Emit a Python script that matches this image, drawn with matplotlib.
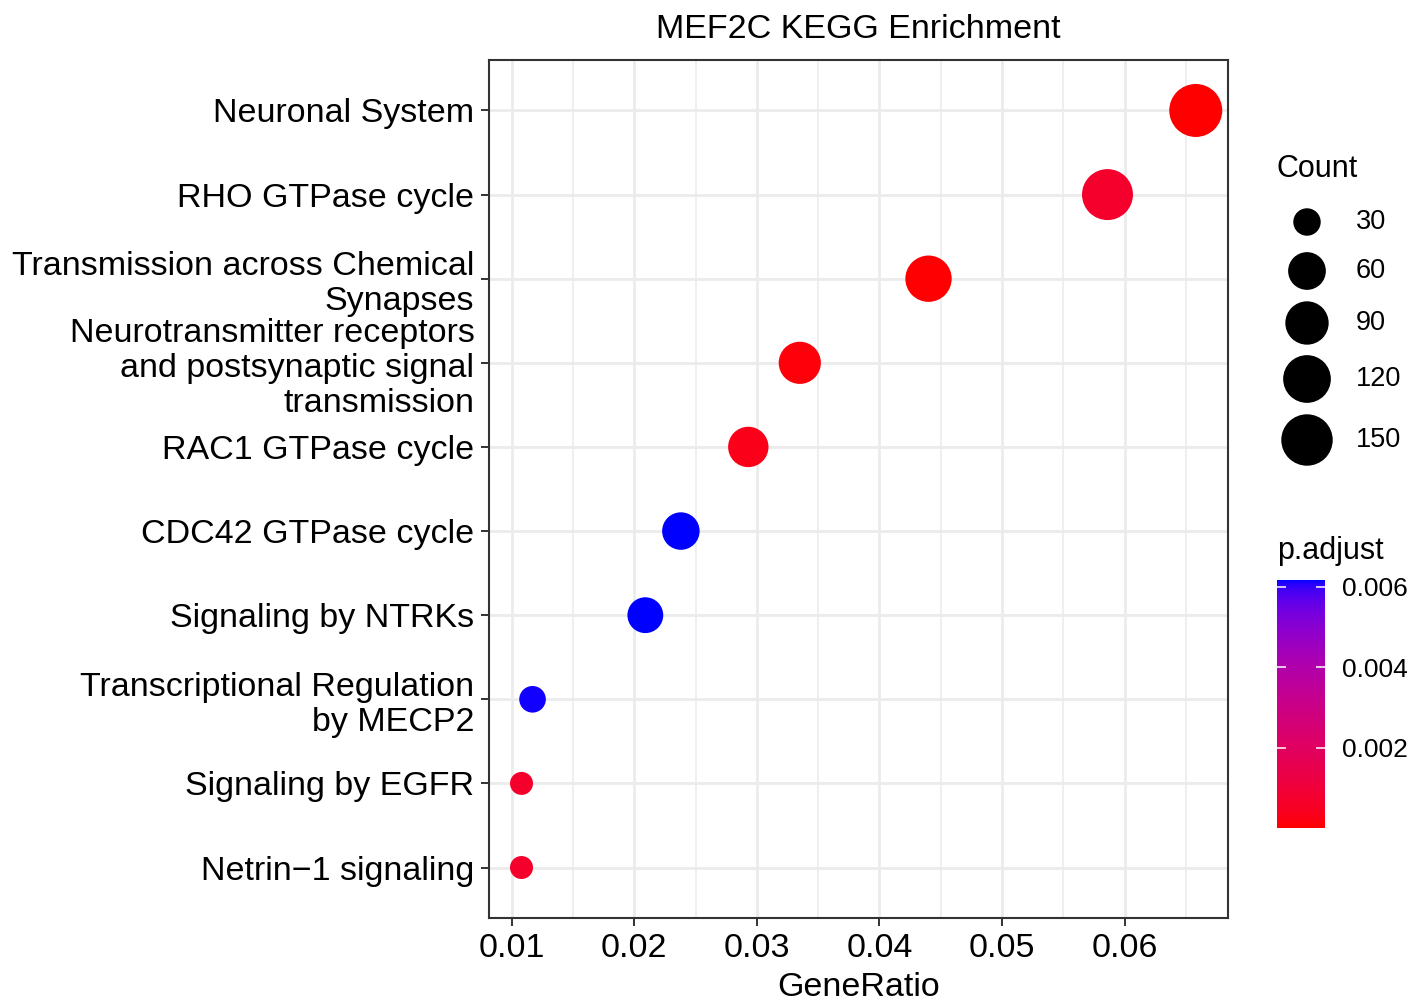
import numpy as np
import matplotlib
matplotlib.use("Agg")
import matplotlib.pyplot as plt
from matplotlib.colors import ListedColormap, Normalize

plt.rcParams['font.family'] = ['Liberation Sans', 'DejaVu Sans']

# ---------------- data ----------------
terms = [
    "Neuronal System",
    "RHO GTPase cycle",
    "Transmission across Chemical\nSynapses",
    "Neurotransmitter receptors\nand postsynaptic signal\ntransmission",
    "RAC1 GTPase cycle",
    "CDC42 GTPase cycle",
    "Signaling by NTRKs",
    "Transcriptional Regulation\nby MECP2",
    "Signaling by EGFR",
    "Netrin\u22121 signaling",
]
gene_ratio = [0.0658, 0.0586, 0.0440, 0.0335, 0.0293, 0.0238, 0.0209, 0.0117, 0.0108, 0.0108]
counts = [164, 146, 110, 83, 73, 59, 52, 29, 27, 27]
p_adjust = [0.000002, 0.0007, 0.00005, 0.0001, 0.0003, 0.00617, 0.00615, 0.00613, 0.0007, 0.0007]
size_breaks = [30, 60, 90, 120, 150]
x_ticks = [0.01, 0.02, 0.03, 0.04, 0.05, 0.06]
x_minor = [0.015, 0.025, 0.035, 0.045, 0.055, 0.065]
cbar_ticks = [0.002, 0.004, 0.006]
cbar_labels = ["0.002", "0.004", "0.006"]

# ---------------- colour scale (Lab interpolation red -> blue) ----------------
M = np.array([[0.4124564, 0.3575761, 0.1804375],
              [0.2126729, 0.7151522, 0.0721750],
              [0.0193339, 0.1191920, 0.9503041]])
WHITE = np.array([0.95047, 1.0, 1.08883])


def srgb_to_lab(c):
    c = np.asarray(c, float)
    lin = np.where(c <= 0.04045, c / 12.92, ((c + 0.055) / 1.055) ** 2.4)
    xyz = M @ lin
    t = xyz / WHITE
    d = 6 / 29
    f = np.where(t > d ** 3, np.cbrt(t), t / (3 * d * d) + 4 / 29)
    return np.array([116 * f[1] - 16, 500 * (f[0] - f[1]), 200 * (f[1] - f[2])])


def lab_to_srgb(lab):
    L, a, b = lab
    fy = (L + 16) / 116
    fx = fy + a / 500
    fz = fy - b / 200
    d = 6 / 29
    f = np.array([fx, fy, fz])
    t = np.where(f > d, f ** 3, 3 * d * d * (f - 4 / 29))
    xyz = t * WHITE
    lin = np.linalg.solve(M, xyz)
    lin = np.clip(lin, 0, 1)
    c = np.where(lin <= 0.0031308, 12.92 * lin, 1.055 * lin ** (1 / 2.4) - 0.055)
    return np.clip(c, 0, 1)


lab_lo = srgb_to_lab([1, 0, 0])
lab_hi = srgb_to_lab([0, 0, 1])
cols = [lab_to_srgb(lab_lo + (lab_hi - lab_lo) * t) for t in np.linspace(0, 1, 256)]
cmap = ListedColormap(cols)
vmin, vmax = min(p_adjust), max(p_adjust)
norm = Normalize(vmin=vmin, vmax=vmax)

# ---------------- size scale (ggplot area scale) ----------------
cmin, cmax = min(counts), max(counts)


def diam_px(c):
    c = np.asarray(c, float)
    return 23 + 30 * np.sqrt(np.clip((c - cmin) / (cmax - cmin), 0, None))


def area_pt2(c):
    return (diam_px(c) * 0.72) ** 2


# ---------------- figure ----------------
W, H = 1408, 1002
fig = plt.figure(figsize=(W / 100, H / 100), dpi=100)
L_, R_, T_, B_ = 489, 1228, 60, 918
ax = fig.add_axes([L_ / W, 1 - B_ / H, (R_ - L_) / W, (B_ - T_) / H])

n = len(terms)
ypos = np.arange(n, 0, -1)
ax.scatter(gene_ratio, ypos, s=area_pt2(counts), c=p_adjust, cmap=cmap, norm=norm,
           edgecolors='none', zorder=3)

ax.set_ylim(0.4, n + 0.6)
ax.set_xlim(0.008148, 0.06843)
ax.set_yticks(ypos)
ax.set_yticklabels(terms, linespacing=1.17)
ax.set_xticks(x_ticks)
ax.set_xticklabels([f"{v:.2f}" for v in x_ticks])
ax.set_xticks(x_minor, minor=True)
ax.tick_params(which='minor', length=0)
ax.tick_params(which='major', length=5.5, width=1.4, color='#333333',
               labelsize=24.5, labelcolor='black', pad=5)
ax.grid(which='major', color='#EBEBEB', linewidth=2.0)
ax.grid(which='minor', axis='x', color='#EBEBEB', linewidth=1.1)
ax.set_axisbelow(True)
for sp in ax.spines.values():
    sp.set_color('#333333')
    sp.set_linewidth(1.5)

fig.text((L_ + R_) / 2 / W, 1 - 29 / H, "MEF2C KEGG Enrichment", ha='center', va='center',
         fontsize=24.5)
fig.text((L_ + R_) / 2 / W, 1 - 987 / H, "GeneRatio", ha='center', va='center',
         fontsize=24.5)

# ---------------- size legend ----------------
lax = fig.add_axes([0, 0, 1, 1], zorder=5)
lax.set_xlim(0, W)
lax.set_ylim(H, 0)
lax.axis('off')
leg_x = 1307
leg_y = [222, 271, 323, 379, 440]
lax.text(1277, 169, "Count", ha='left', va='center', fontsize=22)
lax.scatter([leg_x] * len(size_breaks), leg_y, s=area_pt2(size_breaks), c='black',
            edgecolors='none')
for yy, b in zip(leg_y, size_breaks):
    lax.text(1356, yy, str(b), ha='left', va='center', fontsize=19.5)

# ---------------- colour bar ----------------
lax.text(1277, 551, "p.adjust", ha='left', va='center', fontsize=22)
cax = fig.add_axes([1277 / W, 1 - 828 / H, 48 / W, 248 / H])
grad = np.linspace(vmin, vmax, 256).reshape(-1, 1)
cax.imshow(grad, aspect='auto', extent=[0, 1, vmin, vmax], origin='lower', cmap=cmap, norm=norm)
cax.set_xlim(0, 1)
cax.set_ylim(vmin, vmax)
cax.set_xticks([])
cax.set_yticks(cbar_ticks)
cax.set_yticklabels(cbar_labels)
cax.tick_params(axis='y', direction='in', left=True, right=True, labelleft=False,
                labelright=True, color='white', labelcolor='black', length=6.5, width=1.1,
                labelsize=19, pad=12)
for sp in cax.spines.values():
    sp.set_visible(False)

fig.savefig("out.png", dpi=100)
